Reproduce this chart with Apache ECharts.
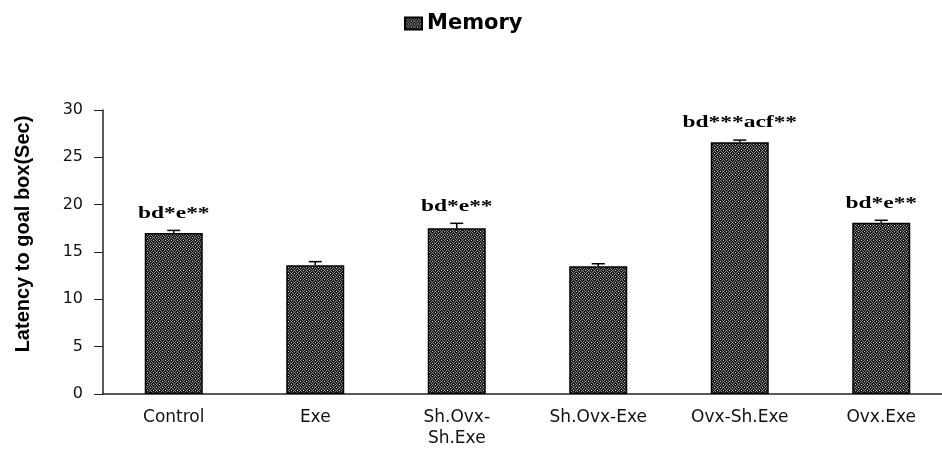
<!DOCTYPE html>
<html>
<head>
<meta charset="utf-8">
<script src="https://cdn.jsdelivr.net/npm/echarts@6/dist/echarts.min.js"></script>
<style>
  html, body { margin: 0; padding: 0; background: #fff; overflow: hidden; }
  /* the original figure is cut off at the right edge, so the chart is a bit wider than the window */
  #chart { width: 956px; height: 450px; }
</style>
</head>
<body>
<div id="chart"></div>
<script>
// data
const categories = ['Control', 'Exe', 'Sh.Ovx-\nSh.Exe', 'Sh.Ovx-Exe', 'Ovx-Sh.Exe', 'Ovx.Exe']
const memory = [17.0, 13.6, 17.5, 13.5, 26.6, 18.1]
const memoryErr = [0.28, 0.38, 0.53, 0.26, 0.22, 0.25]
const sigLabels = ['bd*e**', '', 'bd*e**', '', 'bd***acf**', 'bd*e**']
const yTicks = [0, 5, 10, 15, 20, 25, 30]

// crosshatch fill like the original print pattern
const makePattern = () => {
  const c = document.createElement('canvas')
  c.width = 6
  c.height = 6
  const ctx = c.getContext('2d')
  ctx.fillStyle = '#1a1a1a'
  ctx.fillRect(0, 0, 6, 6)
  ctx.fillStyle = '#858585'
  const dots = [[0, 0], [1, 1], [2, 2], [4, 2], [5, 1], [3, 3], [2, 4], [1, 5], [4, 4], [5, 5]]
  dots.forEach(([x, y]) => ctx.fillRect(x, y, 1, 1))
  ctx.fillStyle = '#d4d4d4'
  ctx.fillRect(3, 0, 1, 1)
  ctx.fillRect(0, 3, 1, 1)
  return c
}
const pattern = { image: makePattern(), repeat: 'repeat' }

const chart = echarts.init(document.getElementById('chart'))

const option = {
  animation: false,
  legend: {
    top: 8,
    left: 399,
    itemWidth: 17,
    itemHeight: 12,
    itemGap: 8,
    data: [{ name: 'Memory', icon: 'rect' }],
    textStyle: { fontFamily: 'DejaVu Sans', fontWeight: 'bold', fontSize: 21, color: '#000' }
  },
  grid: { left: 103, top: 110, bottom: 56, width: 849 },
  xAxis: {
    type: 'category',
    data: categories,
    axisLine: { lineStyle: { color: '#222', width: 1.5 } },
    axisTick: { show: false },
    axisLabel: {
      margin: 13,
      interval: 0,
      color: '#111',
      fontFamily: 'DejaVu Sans',
      fontSize: 17,
      lineHeight: 21
    }
  },
  yAxis: {
    type: 'value',
    min: yTicks[0],
    max: yTicks[yTicks.length - 1],
    interval: 5,
    name: 'Latency to goal box(Sec)',
    nameLocation: 'middle',
    nameGap: 70,
    nameTextStyle: {
      fontFamily: 'Liberation Sans, Arial',
      fontWeight: 'bold',
      fontSize: 20,
      color: '#000',
      padding: [0, 0, 0, 36]
    },
    axisLine: { show: true, lineStyle: { color: '#222', width: 1.5 } },
    axisTick: { show: true, inside: false, length: 9, lineStyle: { color: '#222' } },
    splitLine: { show: false },
    axisLabel: {
      margin: 20,
      color: '#111',
      fontFamily: 'DejaVu Sans',
      fontSize: 16
    }
  },
  series: [
    {
      name: 'Memory',
      type: 'bar',
      data: memory,
      barWidth: '41%',
      itemStyle: { color: pattern, borderColor: '#000', borderWidth: 1.5 }
    },
    {
      // error bars (upper half only) plus significance letters
      type: 'custom',
      data: memory.map((v, i) => [i, v, memoryErr[i]]),
      z: 5,
      renderItem: (params, api) => {
        const i = api.value(0)
        const base = api.coord([i, api.value(1)])
        const top = api.coord([i, api.value(1) + api.value(2)])
        const half = 6.5
        const children = [
          { type: 'line', shape: { x1: base[0], y1: base[1], x2: top[0], y2: top[1] }, style: { stroke: '#000', lineWidth: 1.5 } },
          { type: 'line', shape: { x1: top[0] - half, y1: top[1], x2: top[0] + half, y2: top[1] }, style: { stroke: '#000', lineWidth: 1.5 } }
        ]
        const txt = sigLabels[params.dataIndex]
        if (txt) {
          children.push({
            type: 'text',
            x: top[0],
            y: top[1] - 17,
            scaleX: 1.38,
            style: {
              text: txt,
              align: 'center',
              verticalAlign: 'middle',
              fontFamily: 'Liberation Serif, Times New Roman',
              fontWeight: 'bold',
              fontSize: 17,
              fill: '#000'
            }
          })
        }
        return { type: 'group', children }
      }
    }
  ]
}

chart.setOption(option)
</script>
</body>
</html>
